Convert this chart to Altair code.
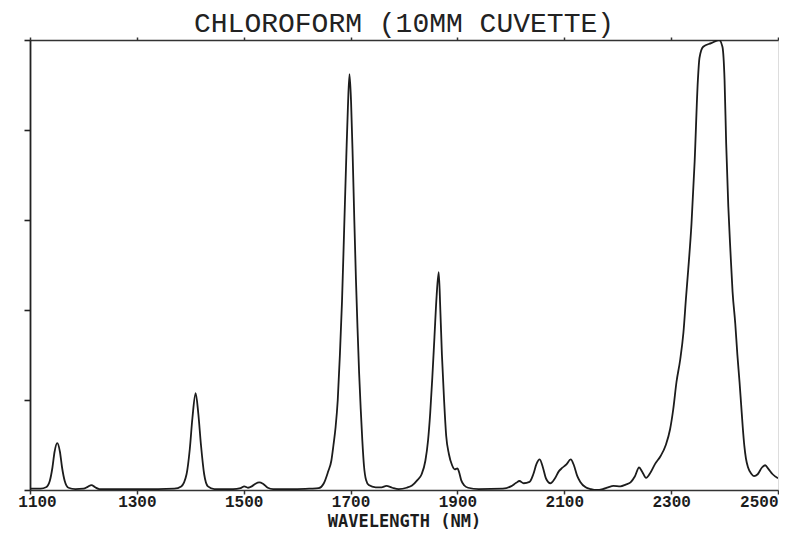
import altair as alt
import pandas as pd

# Spectrum (wavelength in nm, relative absorbance, full scale = 1)
wavelength = [
    1100, 1120, 1130, 1137, 1142, 1146, 1151, 1156, 1160, 1165, 1172, 1185,
    1200, 1208, 1215, 1222, 1230, 1260, 1300, 1340, 1370, 1383, 1393, 1399,
    1404, 1410, 1415, 1420, 1426, 1433, 1445, 1480, 1494, 1501, 1508, 1515,
    1522, 1529, 1536, 1545, 1555, 1600, 1625, 1640, 1650, 1658, 1664, 1668,
    1672, 1676, 1680, 1684, 1688, 1692, 1695, 1698, 1701, 1704, 1707, 1710,
    1713, 1716, 1719, 1722, 1725, 1729, 1734, 1747, 1758, 1767, 1778, 1790,
    1805, 1815, 1825, 1833, 1840, 1845, 1849, 1853, 1857, 1861, 1865, 1868,
    1871, 1875, 1879, 1884, 1890, 1895, 1900, 1903, 1907, 1913, 1920, 1940,
    1985, 2000, 2010, 2016, 2024, 2035, 2042, 2048, 2054, 2060, 2066, 2074,
    2082, 2090, 2096, 2104, 2112, 2118, 2124, 2130, 2140, 2150, 2160, 2172,
    2182, 2192, 2205, 2215, 2224, 2232, 2240, 2246, 2253, 2262, 2270, 2280,
    2290, 2298, 2304, 2310, 2317, 2323, 2328, 2332, 2338, 2344, 2350, 2353,
    2360, 2375, 2390, 2396, 2400, 2403, 2407, 2411, 2415, 2420, 2424, 2428,
    2431, 2434, 2437, 2440, 2444, 2450, 2455, 2462, 2470, 2476, 2482, 2490,
    2500,
]
absorbance = [
    0.003, 0.003, 0.006, 0.020, 0.050, 0.085, 0.104, 0.085, 0.050, 0.020, 0.005, 0.002,
    0.003, 0.007, 0.011, 0.006, 0.002, 0.002, 0.002, 0.002, 0.003, 0.008, 0.035, 0.090,
    0.160, 0.215, 0.170, 0.100, 0.035, 0.008, 0.002, 0.002, 0.004, 0.008, 0.005, 0.008,
    0.014, 0.017, 0.014, 0.005, 0.002, 0.002, 0.003, 0.004, 0.015, 0.041, 0.065, 0.100,
    0.140, 0.200, 0.300, 0.420, 0.580, 0.740, 0.850, 0.924, 0.860, 0.740, 0.600, 0.470,
    0.360, 0.260, 0.180, 0.110, 0.055, 0.022, 0.011, 0.006, 0.006, 0.009, 0.005, 0.002,
    0.005, 0.010, 0.022, 0.035, 0.065, 0.110, 0.170, 0.250, 0.340, 0.430, 0.484, 0.400,
    0.300, 0.200, 0.120, 0.080, 0.055, 0.046, 0.048, 0.040, 0.022, 0.010, 0.005, 0.002,
    0.003, 0.008, 0.016, 0.020, 0.015, 0.018, 0.035, 0.058, 0.068, 0.050, 0.025, 0.015,
    0.025, 0.042, 0.049, 0.057, 0.068, 0.055, 0.032, 0.018, 0.006, 0.002, 0.000, 0.002,
    0.006, 0.009, 0.008, 0.012, 0.017, 0.030, 0.050, 0.040, 0.027, 0.040, 0.058, 0.075,
    0.100, 0.135, 0.180, 0.240, 0.290, 0.350, 0.430, 0.490, 0.590, 0.730, 0.910, 0.960,
    0.985, 0.993, 1.000, 0.985, 0.910, 0.770, 0.630, 0.530, 0.440, 0.370, 0.300, 0.240,
    0.190, 0.140, 0.098, 0.070, 0.050, 0.036, 0.031, 0.035, 0.050, 0.055, 0.047, 0.035,
    0.026,
]

x_tick_values = [1100, 1300, 1500, 1700, 1900, 2100, 2300, 2500]
y_tick_values = [0, 0.2, 0.4, 0.6, 0.8, 1.0]

df = pd.DataFrame({"wavelength": wavelength, "absorbance": absorbance})

ink = "#1c1c1c"
mono = "Liberation Mono, DejaVu Sans Mono, monospace"
x_scale = alt.Scale(domain=[1100, 2500], nice=False, zero=False)
y_scale = alt.Scale(domain=[0, 1], nice=False)

line = alt.Chart(df).mark_line(
    color=ink, strokeWidth=1.8, interpolate="monotone", clip=True
).encode(
    x=alt.X(
        "wavelength:Q",
        scale=x_scale,
        axis=alt.Axis(
            values=x_tick_values,
            format="d",
            title="WAVELENGTH (NM)",
            titleFont="DejaVu Sans Mono, monospace",
            titleFontWeight="bold",
            titleFontSize=17,
            titleColor=ink,
            titlePadding=4,
            labelFont=mono,
            labelFontWeight="bold",
            labelFontSize=16,
            labelColor=ink,
            labelPadding=-1,
            labelAlign={"condition": {"test": "datum.value == 2500", "value": "right"}, "value": "center"},
            labelOffset={"condition": {"test": "datum.value == 1100", "value": 7}, "value": 0},
            grid=False,
            domainColor="#333333",
            domainWidth=1.6,
            tickColor="#333333",
            tickWidth=1.5,
            tickSize=4,
        ),
    ),
    y=alt.Y(
        "absorbance:Q",
        scale=y_scale,
        axis=alt.Axis(
            orient="left",
            values=y_tick_values,
            labels=False,
            title=None,
            grid=False,
            domain=True,
            ticks=True,
            domainColor="#222222",
            domainWidth=1.8,
            tickColor="#222222",
            tickWidth=1.6,
            tickSize=6,
            minExtent=0,
        ),
    ),
)

top = alt.Chart(df).mark_point(opacity=0).encode(
    x=alt.X(
        "wavelength:Q",
        scale=x_scale,
        axis=alt.Axis(
            orient="top",
            values=x_tick_values,
            labels=False,
            title=None,
            grid=False,
            domainColor="#333333",
            domainWidth=1.6,
            tickColor="#333333",
            tickWidth=1.5,
            tickSize=3,
        ),
    ),
)

chart = (
    alt.layer(line, top)
    .resolve_axis(x="independent")
    .properties(
        width=748,
        height=450,
        autosize=alt.AutoSizeParams(type="none"),
        padding={"left": 22, "top": 32, "right": 1, "bottom": 41},
        title=alt.TitleParams(
            "CHLOROFORM (10MM CUVETTE)",
            font=mono,
            fontSize=28,
            fontWeight="normal",
            color="#222222",
            anchor="middle",
            baseline="alphabetic",
            offset=2,
            dy=26,
        ),
    )
    .configure_view(stroke=None)
    .configure(background="white")
)

chart.save("out.html", embed_options={"renderer": "svg", "actions": False})
